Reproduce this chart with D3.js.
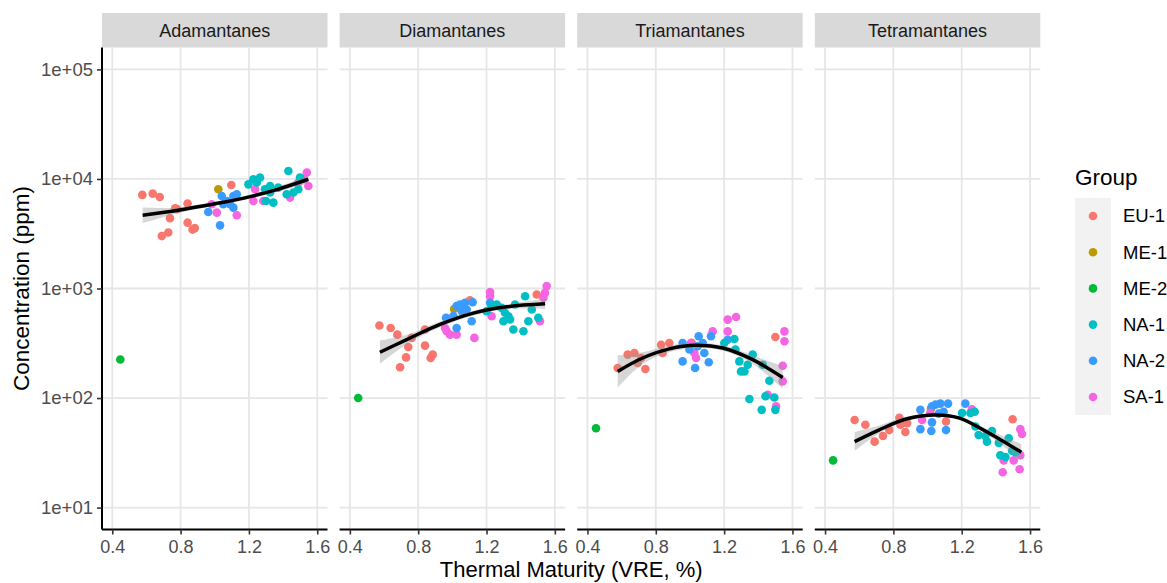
<!DOCTYPE html>
<html>
<head>
<meta charset="utf-8">
<script src="https://cdn.jsdelivr.net/npm/d3@7"></script>
<style>
  body { margin: 0; background: #fff; }
  svg { display: block; font-family: "Liberation Sans", Arial, sans-serif; }
</style>
</head>
<body>
<svg id="chart" width="1167" height="583"></svg>
<script>
const panels = ["Adamantanes", "Diamantanes", "Triamantanes", "Tetramantanes"];
const groups = ["EU-1", "ME-1", "ME-2", "NA-1", "NA-2", "SA-1"];
const groupColors = ["#F8766D", "#BB9A00", "#00BA38", "#00BFC4", "#3A9BFF", "#F564E3"];
const xTicks = [0.4, 0.8, 1.2, 1.6];
const yTicks = [10, 100, 1000, 10000, 100000];
const yTickLabels = ["1e+01", "1e+02", "1e+03", "1e+04", "1e+05"];

// [group, VRE, ppm]
const adaPoints = [
  ["ME-2", 0.447, 225],
  ["EU-1", 0.576, 7150], ["EU-1", 0.637, 7350], ["EU-1", 0.678, 6840], ["EU-1", 0.738, 4380],
  ["EU-1", 0.768, 5400], ["EU-1", 0.78, 5300], ["EU-1", 0.841, 5960], ["EU-1", 0.841, 3990],
  ["EU-1", 0.883, 3560], ["EU-1", 0.87, 3450], ["EU-1", 0.69, 3010], ["EU-1", 0.728, 3240],
  ["EU-1", 1.097, 8810],
  ["ME-1", 1.021, 8050],
  ["NA-2", 0.962, 4990], ["NA-2", 1.031, 3770], ["NA-2", 1.041, 6980], ["NA-2", 1.07, 6290],
  ["NA-2", 1.109, 6980], ["NA-2", 1.129, 7240], ["NA-2", 1.09, 5880], ["NA-2", 1.109, 5470],
  ["NA-2", 1.05, 5880],
  ["SA-1", 0.982, 5880], ["SA-1", 1.012, 4930], ["SA-1", 1.129, 4660], ["SA-1", 1.226, 6300],
  ["SA-1", 1.236, 8050], ["SA-1", 1.441, 6760], ["SA-1", 1.539, 11450], ["SA-1", 1.548, 8630],
  ["SA-1", 1.519, 9940], ["SA-1", 1.489, 9270], ["SA-1", 1.284, 6300],
  ["NA-1", 1.197, 8930], ["NA-1", 1.226, 9940], ["NA-1", 1.265, 10300], ["NA-1", 1.246, 9270],
  ["NA-1", 1.294, 8050], ["NA-1", 1.324, 7520], ["NA-1", 1.30, 6300], ["NA-1", 1.343, 6080],
  ["NA-1", 1.372, 8340], ["NA-1", 1.431, 11830], ["NA-1", 1.421, 7240], ["NA-1", 1.46, 7520],
  ["NA-1", 1.489, 8050], ["NA-1", 1.499, 10300], ["NA-1", 1.324, 8630]
];
const diaPoints = [
  ["ME-2", 0.449, 100],
  ["EU-1", 0.573, 459], ["EU-1", 0.639, 436], ["EU-1", 0.678, 379], ["EU-1", 0.742, 292],
  ["EU-1", 0.729, 235], ["EU-1", 0.694, 191], ["EU-1", 0.84, 422], ["EU-1", 0.84, 301],
  ["EU-1", 0.885, 249], ["EU-1", 0.873, 232], ["EU-1", 0.762, 354], ["EU-1", 1.103, 782],
  ["EU-1", 1.494, 881],
  ["ME-1", 1.01, 650],
  ["SA-1", 0.967, 407], ["SA-1", 0.986, 379], ["SA-1", 1.025, 379], ["SA-1", 0.957, 436],
  ["SA-1", 1.129, 354], ["SA-1", 1.221, 927], ["SA-1", 1.221, 851], ["SA-1", 1.23, 558],
  ["SA-1", 1.513, 502], ["SA-1", 1.552, 1052], ["SA-1", 1.542, 912], ["SA-1", 1.533, 822],
  ["NA-2", 0.963, 540], ["NA-2", 1.025, 690], ["NA-2", 1.045, 715], ["NA-2", 1.074, 740],
  ["NA-2", 1.055, 621], ["NA-2", 1.113, 502], ["NA-2", 1.119, 750], ["NA-2", 1.025, 436],
  ["NA-2", 1.221, 740], ["NA-2", 1.006, 560], ["NA-2", 1.084, 643],
  ["NA-1", 1.201, 621], ["NA-1", 1.26, 715], ["NA-1", 1.289, 666], ["NA-1", 1.308, 600],
  ["NA-1", 1.338, 521], ["NA-1", 1.357, 422], ["NA-1", 1.367, 715], ["NA-1", 1.426, 851],
  ["NA-1", 1.465, 643], ["NA-1", 1.445, 502], ["NA-1", 1.416, 407], ["NA-1", 1.503, 540],
  ["NA-1", 1.299, 502], ["NA-1", 1.328, 558], ["NA-1", 1.23, 690]
];
const triPoints = [
  ["ME-2", 0.45, 53],
  ["EU-1", 0.577, 188], ["EU-1", 0.636, 249], ["EU-1", 0.675, 258], ["EU-1", 0.694, 209],
  ["EU-1", 0.739, 184], ["EU-1", 0.831, 307], ["EU-1", 0.84, 258], ["EU-1", 0.879, 318],
  ["EU-1", 1.5, 361], ["EU-1", 0.714, 232],
  ["ME-1", 1.01, 320],
  ["SA-1", 1.006, 318], ["SA-1", 1.026, 258], ["SA-1", 1.036, 232], ["SA-1", 1.221, 520],
  ["SA-1", 1.27, 550], ["SA-1", 1.221, 406], ["SA-1", 1.133, 406], ["SA-1", 1.553, 406],
  ["SA-1", 1.553, 330], ["SA-1", 1.543, 197], ["SA-1", 1.543, 142], ["SA-1", 1.504, 84],
  ["SA-1", 1.455, 107],
  ["NA-2", 0.957, 216], ["NA-2", 0.957, 318], ["NA-2", 1.03, 188], ["NA-2", 1.051, 367],
  ["NA-2", 1.084, 258], ["NA-2", 1.11, 212], ["NA-2", 1.045, 297], ["NA-2", 1.123, 367],
  ["NA-2", 1.221, 341], ["NA-2", 0.997, 277], ["NA-2", 1.075, 318],
  ["NA-1", 1.201, 318], ["NA-1", 1.26, 346], ["NA-1", 1.266, 277], ["NA-1", 1.289, 216],
  ["NA-1", 1.319, 175], ["NA-1", 1.299, 175], ["NA-1", 1.367, 249], ["NA-1", 1.338, 201],
  ["NA-1", 1.426, 201], ["NA-1", 1.465, 144], ["NA-1", 1.348, 98], ["NA-1", 1.42, 78],
  ["NA-1", 1.442, 104], ["NA-1", 1.494, 101], ["NA-1", 1.5, 78]
];
const tetPoints = [
  ["ME-2", 0.447, 27],
  ["EU-1", 0.573, 63], ["EU-1", 0.636, 57], ["EU-1", 0.69, 40], ["EU-1", 0.739, 45],
  ["EU-1", 0.776, 51], ["EU-1", 0.835, 66], ["EU-1", 0.841, 57], ["EU-1", 0.88, 59],
  ["EU-1", 0.87, 49], ["EU-1", 1.108, 61], ["EU-1", 1.498, 64],
  ["ME-1", 1.02, 80],
  ["NA-2", 0.958, 78], ["NA-2", 0.958, 52], ["NA-2", 1.026, 84], ["NA-2", 1.046, 87],
  ["NA-2", 1.075, 89], ["NA-2", 1.12, 89], ["NA-2", 1.026, 60], ["NA-2", 1.022, 50],
  ["NA-2", 1.108, 51], ["NA-2", 1.221, 89], ["NA-2", 1.094, 75], ["NA-2", 1.065, 72],
  ["SA-1", 0.968, 63], ["SA-1", 1.016, 73], ["SA-1", 1.26, 79], ["SA-1", 1.543, 52],
  ["SA-1", 1.553, 47], ["SA-1", 1.543, 30], ["SA-1", 1.446, 27], ["SA-1", 1.504, 27],
  ["SA-1", 1.44, 21], ["SA-1", 1.539, 22.4],
  ["NA-1", 1.202, 73], ["NA-1", 1.251, 73], ["NA-1", 1.276, 75], ["NA-1", 1.28, 55],
  ["NA-1", 1.299, 46], ["NA-1", 1.338, 45], ["NA-1", 1.348, 40], ["NA-1", 1.377, 50],
  ["NA-1", 1.417, 39], ["NA-1", 1.475, 43], ["NA-1", 1.426, 30], ["NA-1", 1.456, 29],
  ["NA-1", 1.495, 33], ["NA-1", 1.514, 32]
];

// smoothing curve: [VRE, fit, lower, upper]
const adaFit = [
  [0.578, 4660, 3950, 5500], [0.777, 5150, 4850, 5470], [0.953, 5750, 5520, 5990],
  [1.05, 6130, 5900, 6360], [1.207, 6900, 6620, 7190], [1.363, 8000, 7620, 8400],
  [1.548, 9940, 9150, 10800]
];
const diaFit = [
  [0.576, 262, 205, 335], [0.733, 342, 310, 378], [0.928, 470, 442, 500],
  [1.123, 596, 568, 626], [1.318, 680, 648, 714], [1.543, 724, 650, 805]
];
const triFit = [
  [0.577, 175, 125, 245], [0.723, 232, 205, 262], [0.879, 281, 262, 302],
  [1.036, 303, 287, 320], [1.192, 286, 270, 303], [1.367, 224, 205, 245],
  [1.543, 154, 122, 195]
];
const tetFit = [
  [0.573, 40, 33, 49], [0.714, 51, 47, 56], [0.87, 64, 61, 67],
  [1.026, 70, 68, 72], [1.182, 66, 64, 68.5], [1.338, 50, 47.5, 53],
  [1.549, 32, 27, 38]
];

const panelPoints = [adaPoints, diaPoints, triPoints, tetPoints];
const panelFits = [adaFit, diaFit, triFit, tetFit];

const svg = d3.select("#chart");
const color = d3.scaleOrdinal().domain(groups).range(groupColors);

const left0 = 102, panelW = 225.5, step = 237.6;
const plotTop = 47.5, plotBottom = 529.5, stripTop = 13;
const pointR = 4.3;

const y = d3.scaleLog()
  .domain([Math.pow(10, 0.8), Math.pow(10, 5.2)])
  .range([plotBottom, plotTop]);

panels.forEach((name, i) => {
  const left = left0 + i * step;
  const x = d3.scaleLinear().domain([0.34, 1.66]).range([left, left + panelW]);
  const g = svg.append("g");

  // strip
  g.append("rect")
    .attr("x", left).attr("y", stripTop)
    .attr("width", panelW).attr("height", plotTop - stripTop)
    .attr("fill", "#d9d9d9");
  g.append("text")
    .attr("x", left + panelW / 2).attr("y", (stripTop + plotTop) / 2)
    .attr("dy", "0.35em")
    .attr("text-anchor", "middle")
    .attr("fill", "#1a1a1a")
    .style("font-size", "18px")
    .text(name);

  // grid
  g.append("g")
    .selectAll("line")
    .data(xTicks)
    .join("line")
    .attr("x1", d => x(d)).attr("x2", d => x(d))
    .attr("y1", plotTop).attr("y2", plotBottom)
    .attr("stroke", "#e6e6e6").attr("stroke-width", 1.8);
  g.append("g")
    .selectAll("line")
    .data(yTicks)
    .join("line")
    .attr("x1", left).attr("x2", left + panelW)
    .attr("y1", d => y(d)).attr("y2", d => y(d))
    .attr("stroke", "#e6e6e6").attr("stroke-width", 1.8);

  // points
  g.append("g")
    .selectAll("circle")
    .data(panelPoints[i])
    .join("circle")
    .attr("cx", d => x(d[1]))
    .attr("cy", d => y(d[2]))
    .attr("r", pointR)
    .attr("fill", d => color(d[0]));

  // smooth ribbon + line
  const fit = panelFits[i];
  const area = d3.area()
    .x(d => x(d[0]))
    .y0(d => y(d[2]))
    .y1(d => y(d[3]))
    .curve(d3.curveCatmullRom.alpha(0.5));
  g.append("path")
    .attr("d", area(fit))
    .attr("fill", "#999999")
    .attr("fill-opacity", 0.4);
  const line = d3.line()
    .x(d => x(d[0]))
    .y(d => y(d[1]))
    .curve(d3.curveCatmullRom.alpha(0.5));
  g.append("path")
    .attr("d", line(fit))
    .attr("fill", "none")
    .attr("stroke", "#000")
    .attr("stroke-width", 3.5);

  // bottom axis
  const xAxis = g.append("g")
    .attr("transform", `translate(0,${plotBottom})`)
    .call(d3.axisBottom(x).tickValues(xTicks).tickFormat(d3.format(".1f")).tickSize(5).tickPadding(6));
  xAxis.select(".domain").attr("d", `M${left},0H${left + panelW}`).attr("stroke", "#000").attr("stroke-width", 2);
  xAxis.selectAll(".tick line").attr("stroke", "#333").attr("stroke-width", 1.6);
  xAxis.selectAll(".tick text")
    .attr("fill", "#4d4d4d")
    .style("font-size", "18px")
    .style("font-family", "'Liberation Sans', Arial, sans-serif");

  if (i === 0) {
    const yAxis = g.append("g")
      .attr("transform", `translate(${left},0)`)
      .call(d3.axisLeft(y).tickValues(yTicks).tickFormat((d, k) => yTickLabels[k]).tickSize(5).tickPadding(4));
    yAxis.select(".domain").attr("d", `M0,${plotTop}V${plotBottom}`).attr("stroke", "#000").attr("stroke-width", 2);
    yAxis.selectAll(".tick line").attr("stroke", "#333").attr("stroke-width", 1.6);
    yAxis.selectAll(".tick text")
      .attr("fill", "#4d4d4d")
      .style("font-size", "18.5px")
      .style("font-family", "'Liberation Sans', Arial, sans-serif");
  }
});

// axis titles
svg.append("text")
  .attr("x", (left0 + left0 + 3 * step + panelW) / 2)
  .attr("y", 577)
  .attr("text-anchor", "middle")
  .attr("fill", "#000")
  .style("font-size", "22px")
  .text("Thermal Maturity (VRE, %)");

svg.append("text")
  .attr("transform", `translate(29,${(plotTop + plotBottom) / 2}) rotate(-90)`)
  .attr("text-anchor", "middle")
  .attr("fill", "#000")
  .style("font-size", "22.5px")
  .text("Concentration (ppm)");

// legend
const legend = svg.append("g").attr("transform", "translate(1075,0)");
legend.append("text")
  .attr("x", 0).attr("y", 185)
  .attr("fill", "#000")
  .style("font-size", "22.5px")
  .text("Group");
legend.append("rect")
  .attr("x", 0).attr("y", 198)
  .attr("width", 36).attr("height", 217)
  .attr("fill", "#f2f2f2");
const keyStep = 36.2;
const items = legend.selectAll("g.key")
  .data(groups)
  .join("g")
  .attr("transform", (d, k) => `translate(0,${216 + k * keyStep})`);
items.append("circle")
  .attr("cx", 18).attr("cy", 0).attr("r", pointR)
  .attr("fill", d => color(d));
items.append("text")
  .attr("x", 48).attr("y", 0).attr("dy", "0.35em")
  .attr("fill", "#000")
  .style("font-size", "18.5px")
  .text(d => d);
</script>
</body>
</html>
